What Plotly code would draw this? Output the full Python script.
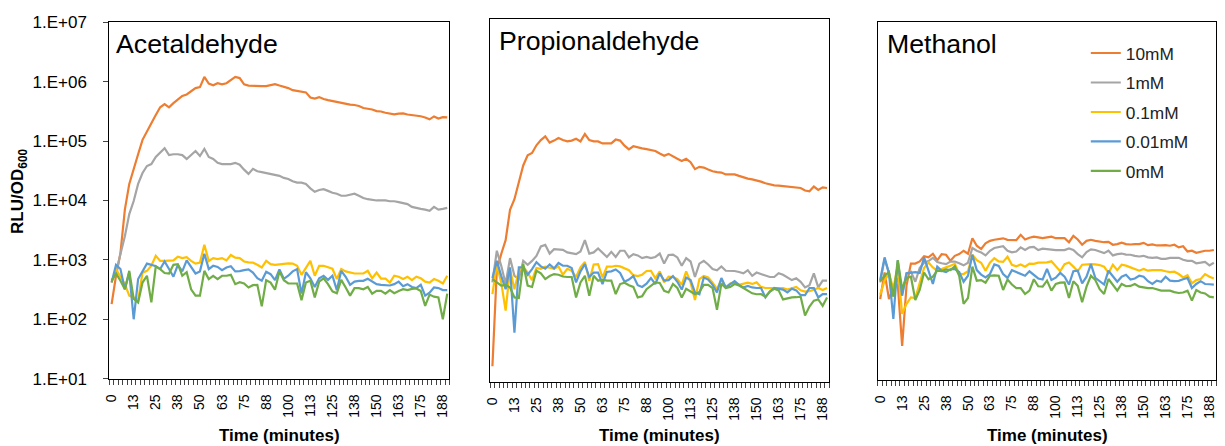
import plotly.graph_objects as go

# ---------------- data ----------------
time_min = [i * 2.5 for i in range(77)]
tick_vals = [0, 12.5, 25, 37.5, 50, 62.5, 75, 87.5, 100, 112.5, 125, 137.5, 150, 162.5, 175, 187.5]
tick_text = ["0", "13", "25", "38", "50", "63", "75", "88", "100", "113", "125", "138", "150", "163", "175", "188"]
y_tick_vals = [10, 100, 1000, 10000, 100000, 1000000, 10000000]
y_tick_text = ["1.E+01", "1.E+02", "1.E+03", "1.E+04", "1.E+05", "1.E+06", "1.E+07"]

series_names = ["10mM", "1mM", "0.1mM", "0.01mM", "0mM"]
series_colors = ["#ED7D31", "#A5A5A5", "#FFC000", "#5B9BD5", "#70AD47"]
panel_titles = ["Acetaldehyde", "Propionaldehyde", "Methanol"]

acet_10 = [180, 540, 1300, 7000, 19000, 35000, 60000, 105000, 148000, 200000,
           275000, 370000, 420000, 370000, 435000, 510000, 575000, 610000, 690000, 780000,
           810000, 1200000, 930000, 870000, 940000, 900000, 940000, 1070000, 1200000, 1150000,
           900000, 860000, 850000, 830000, 840000, 840000, 870000, 910000, 860000, 820000,
           780000, 720000, 700000, 680000, 660000, 540000, 520000, 550000, 510000, 490000,
           470000, 460000, 440000, 420000, 410000, 405000, 390000, 360000, 350000, 340000,
           320000, 315000, 300000, 290000, 282000, 290000, 292000, 280000, 275000, 265000,
           262000, 250000, 232000, 260000, 240000, 252000, 250000]
acet_1 = [450, 600, 1260, 2500, 5900, 9800, 19000, 29000, 38000, 41000,
          54000, 63000, 76000, 58000, 60000, 60000, 58000, 50000, 58000, 68000,
          56000, 74000, 54000, 50000, 43000, 41000, 41000, 41000, 43000, 40000,
          33000, 28000, 34000, 31000, 30000, 29000, 28000, 27000, 26000, 24000,
          23000, 21000, 20000, 20000, 19000, 16000, 14000, 15000, 15500, 14500,
          13500, 13000, 12000, 12000, 12500, 13000, 12000, 11000, 10500, 10200,
          10000, 10000, 10000, 9700, 9700, 9400, 9000, 8700, 7800, 7400,
          7200, 7000, 6700, 7800, 7000, 7200, 7500]
acet_01 = [415, 700, 520, 390, 250, 233, 205, 610, 653, 795,
           1170, 960, 960, 960, 980, 1130, 1070, 1110, 960, 865,
           900, 1790, 960, 1070, 1030, 1070, 980, 1210, 1090, 1070,
           940, 910, 900, 825, 743, 960, 845, 825, 845, 875,
           875, 865, 795, 560, 743, 960, 540, 795, 795, 743,
           710, 475, 700, 640, 610, 590, 590, 590, 653, 490,
           610, 485, 485, 415, 540, 520, 475, 520, 455, 520,
           490, 430, 415, 475, 444, 400, 540]
acet_001 = [415, 825, 700, 320, 610, 100, 475, 653, 865, 825,
            780, 700, 940, 700, 520, 825, 640, 980, 760, 590,
            640, 1270, 700, 795, 760, 670, 743, 780, 640, 645,
            670, 690, 610, 490, 444, 630, 574, 455, 690, 480,
            540, 640, 700, 270, 620, 490, 350, 490, 540, 460,
            540, 310, 653, 520, 380, 430, 444, 444, 480, 430,
            390, 380, 370, 370, 390, 430, 360, 390, 350, 335,
            380, 250, 280, 343, 335, 310, 310]
acet_0 = [444, 590, 444, 320, 653, 220, 192, 415, 540, 192,
          780, 700, 600, 590, 825, 845, 540, 620, 320, 250,
          250, 653, 475, 540, 475, 540, 540, 560, 390, 420,
          400, 343, 375, 380, 165, 455, 415, 315, 640, 455,
          400, 400, 400, 210, 415, 444, 233, 430, 490, 390,
          295, 275, 460, 343, 250, 335, 335, 320, 350, 270,
          300, 300, 270, 310, 275, 300, 320, 310, 325, 330,
          300, 168, 260, 240, 233, 100, 270]

propio_10 = [18, 700, 1300, 2200, 7000, 10500, 20000, 38000, 56000, 61000,
             82000, 100000, 115000, 91000, 98000, 108000, 100000, 95000, 98000, 105000,
             95000, 126000, 100000, 95000, 95000, 88000, 88000, 88000, 102000, 98000,
             81000, 70000, 79000, 75000, 73000, 71000, 69000, 66000, 60000, 55000,
             59000, 53000, 49000, 45000, 49000, 43000, 33000, 36000, 35000, 32500,
             30500, 29500, 29000, 27000, 27000, 27000, 25500, 24000, 23000, 22300,
             21500, 20500, 19300, 18500, 17800, 17600, 17300, 17000, 16800, 16500,
             16100, 14600, 14200, 17000, 15000, 16500, 16100]
propio_1 = [440, 1470, 830, 413, 1110, 565, 500, 1000, 860, 1000,
            1210, 1730, 1840, 1320, 1560, 1560, 1520, 1380, 1340, 1290,
            1430, 2200, 1320, 1380, 1600, 1340, 1160, 1410, 1160, 1470,
            1470, 1140, 1290, 1230, 1110, 1160, 1110, 1160, 1320, 900,
            1250, 1270, 1140, 830, 1110, 975, 540, 900, 1000, 870,
            730, 700, 810, 685, 685, 680, 655, 620, 700, 565,
            640, 605, 565, 540, 540, 625, 590, 530, 480, 515,
            450, 363, 395, 620, 363, 470, 470]
propio_01 = [282, 870, 440, 150, 730, 340, 685, 810, 640, 480,
             760, 740, 800, 780, 740, 810, 590, 740, 685, 540,
             780, 960, 470, 870, 885, 530, 800, 800, 830, 810,
             750, 700, 580, 560, 590, 680, 685, 515, 670, 440,
             550, 540, 500, 400, 670, 440, 225, 500, 560, 530,
             435, 340, 490, 363, 420, 435, 400, 420, 435, 415,
             440, 370, 355, 355, 355, 345, 355, 335, 355, 370,
             325, 310, 315, 335, 355, 330, 355]
propio_001 = [520, 1000, 565, 340, 780, 65, 780, 780, 590, 730,
              950, 810, 740, 870, 750, 920, 830, 830, 760, 440,
              670, 885, 540, 640, 640, 413, 655, 670, 720, 630,
              450, 490, 560, 395, 370, 420, 520, 413, 620, 470,
              480, 560, 450, 335, 530, 480, 300, 280, 530, 490,
              400, 300, 520, 363, 413, 460, 400, 363, 385, 363,
              355, 355, 248, 310, 355, 345, 335, 300, 345, 325,
              270, 270, 355, 355, 248, 282, 282]
propio_0 = [500, 440, 390, 400, 363, 248, 242, 885, 390, 370,
            685, 620, 500, 560, 605, 590, 550, 540, 540, 248,
            440, 565, 265, 565, 470, 490, 470, 470, 282, 413,
            435, 395, 370, 248, 260, 340, 390, 440, 430, 320,
            300, 413, 355, 248, 345, 310, 280, 305, 400, 400,
            355, 155, 420, 355, 370, 413, 390, 355, 320, 290,
            280, 282, 255, 310, 345, 325, 230, 242, 248, 250,
            255, 125, 175, 219, 230, 180, 248]

meth_10 = [225, 630, 225, 355, 404, 37, 380, 890, 890, 965,
           1180, 1130, 1300, 1010, 1280, 1250, 990, 1200, 1280, 1460,
           1300, 2370, 1770, 1560, 1940, 2140, 2230, 2290, 2360, 2230,
           2200, 2200, 2700, 2260, 2410, 2510, 2440, 2370, 2440, 2510,
           2370, 2370, 2370, 2030, 2600, 2260, 1840, 2140, 2230, 2140,
           2080, 2030, 2060, 1840, 1890, 2000, 1890, 1860, 1890, 1890,
           1980, 1810, 1860, 1790, 1790, 1810, 1770, 1840, 1660, 1740,
           1420, 1460, 1350, 1420, 1460, 1460, 1500]
meth_1 = [430, 1060, 610, 257, 510, 280, 610, 650, 440, 750,
          920, 980, 1110, 940, 900, 870, 960, 960, 900, 830,
          920, 1620, 1460, 1370, 1220, 1460, 1620, 1660, 1740, 1460,
          1370, 1420, 1660, 1500, 1660, 1700, 1500, 1580, 1540, 1500,
          1500, 1500, 1500, 1600, 1500, 1280, 1130, 1390, 1540, 1500,
          1420, 1330, 1460, 1220, 1280, 1310, 1260, 1250, 1200, 1170,
          1200, 1130, 1110, 1130, 1070, 1070, 1110, 1110, 1110, 1030,
          990, 990, 900, 920, 950, 830, 920]
meth_01 = [268, 459, 610, 335, 820, 127, 187, 241, 235, 404,
           750, 930, 767, 675, 710, 767, 820, 880, 593, 593,
           660, 1250, 1010, 920, 675, 920, 1090, 970, 950, 1160,
           850, 800, 860, 790, 890, 880, 920, 930, 930, 970,
           790, 660, 870, 930, 790, 660, 850, 870, 870, 860,
           840, 790, 620, 850, 690, 850, 820, 767, 720, 675,
           720, 675, 690, 690, 690, 660, 640, 650, 593, 521,
           565, 415, 470, 490, 593, 535, 500]
meth_001 = [470, 1130, 610, 105, 1010, 257, 610, 620, 640, 620,
            1130, 675, 404, 790, 675, 640, 710, 720, 640, 440,
            555, 1250, 690, 580, 521, 593, 860, 810, 593, 510,
            690, 640, 593, 555, 660, 565, 500, 480, 720, 470,
            515, 620, 535, 395, 660, 675, 415, 535, 870, 510,
            455, 395, 675, 535, 440, 535, 575, 480, 500, 555,
            535, 450, 404, 459, 440, 535, 459, 450, 455, 485,
            510, 345, 404, 450, 404, 400, 395]
meth_0 = [450, 555, 640, 247, 1010, 335, 510, 535, 218, 320,
          630, 485, 535, 675, 665, 710, 690, 800, 555, 187,
          235, 790, 459, 470, 425, 555, 565, 555, 320, 480,
          395, 345, 345, 274, 312, 485, 370, 365, 459, 312,
          404, 425, 430, 235, 450, 375, 200, 365, 555, 470,
          330, 274, 490, 385, 312, 404, 370, 375, 404, 365,
          350, 345, 345, 330, 312, 312, 312, 295, 285, 290,
          312, 212, 320, 290, 280, 247, 241]

panel_data = [
    [acet_10, acet_1, acet_01, acet_001, acet_0],
    [propio_10, propio_1, propio_01, propio_001, propio_0],
    [meth_10, meth_1, meth_01, meth_001, meth_0],
]

# ---------------- layout helpers ----------------
# positions below are target pixels in the captured picture; they are mapped
# to figure pixels (the captured page is slightly squeezed vertically).
W, H = 1225, 456
X_OFF, Y_OFF, Y_SCALE = 1.0, 7.7, 0.96
def fx(p):
    return (p - X_OFF) / W
def fy(p):
    return (H - (p - Y_OFF) / Y_SCALE) / H

FONT = "Liberation Sans, Arial, sans-serif"
# pixel boxes of the three plot areas: (left, right, top, bottom)
boxes = [(105, 447, 21, 378), (488, 829, 18, 381), (878, 1218, 21, 379)]
title_pos = [(110, 26), (495, 23), (885, 26)]

fig = go.Figure()
for p in range(3):
    ax = "" if p == 0 else str(p + 1)
    for s in range(5):
        fig.add_trace(go.Scatter(
            x=time_min, y=panel_data[p][s], mode="lines",
            name=series_names[s], legendgroup=series_names[s],
            showlegend=(p == 0),
            line=dict(color=series_colors[s], width=2.2),
            xaxis="x" + ax, yaxis="y" + ax,
        ))

layout = dict(
    width=W, height=H, autosize=False,
    margin=dict(l=0, r=0, t=0, b=0),
    paper_bgcolor="white", plot_bgcolor="white",
    font=dict(family=FONT, color="black"),
    legend=dict(
        x=fx(1087), y=fy(34), xanchor="left", yanchor="top",
        font=dict(family=FONT, size=17.3, color="#222"),
        tracegroupgap=4, bgcolor="rgba(0,0,0,0)",
    ),
    annotations=[], showlegend=True,
)

for p in range(3):
    l, r, t, b = boxes[p]
    xa = "xaxis" if p == 0 else "xaxis%d" % (p + 1)
    ya = "yaxis" if p == 0 else "yaxis%d" % (p + 1)
    yref = "y" if p == 0 else "y%d" % (p + 1)
    layout[xa] = dict(
        domain=[fx(l), fx(r)], anchor=yref,
        range=[-1.25, 191.25], showgrid=False, zeroline=False,
        showline=True, mirror=True, linecolor="black", linewidth=1.3,
        tickmode="array", tickvals=tick_vals, ticktext=tick_text,
        tickangle=-90, ticks="", ticklabelstandoff=9,
        tickfont=dict(family=FONT, size=14, color="black"),
        minor=dict(ticks="outside", ticklen=5, tickcolor="#444", tickwidth=1,
                   tickmode="linear", tick0=-1.25, dtick=2.5, showgrid=False),
    )
    xref = "x" if p == 0 else "x%d" % (p + 1)
    yd = dict(
        domain=[fy(b), fy(t)], anchor=xref, type="log", range=[1, 7],
        showgrid=False, zeroline=False,
        showline=True, mirror=True, linecolor="black", linewidth=1.3,
    )
    if p == 0:
        yd.update(tickmode="array", tickvals=y_tick_vals, ticktext=y_tick_text,
                  ticks="outside", ticklen=5, tickcolor="#444",
                  ticklabelstandoff=13,
                  tickfont=dict(family=FONT, size=17, color="black"))
    else:
        yd.update(showticklabels=False, ticks="")
    layout[ya] = yd

    # panel title
    tx, ty = title_pos[p]
    layout["annotations"].append(dict(
        text=panel_titles[p], x=fx(tx), y=fy(ty), xref="paper", yref="paper",
        xanchor="left", yanchor="top", showarrow=False,
        font=dict(family=FONT, size=26.7, color="black"),
    ))
    # x-axis title
    layout["annotations"].append(dict(
        text="<b>Time (minutes)</b>", x=fx((l + r) / 2), y=fy(435),
        xref="paper", yref="paper", xanchor="center", yanchor="middle",
        showarrow=False, font=dict(family=FONT, size=17, color="black"),
    ))

layout["annotations"].append(dict(
    text="<b>RLU/OD<sub>600</sub></b>", x=fx(14), y=fy(190),
    xref="paper", yref="paper", xanchor="center", yanchor="middle",
    textangle=-90, showarrow=False,
    font=dict(family=FONT, size=17, color="black"),
))

fig.update_layout(**layout)
fig.write_html("out.html")
